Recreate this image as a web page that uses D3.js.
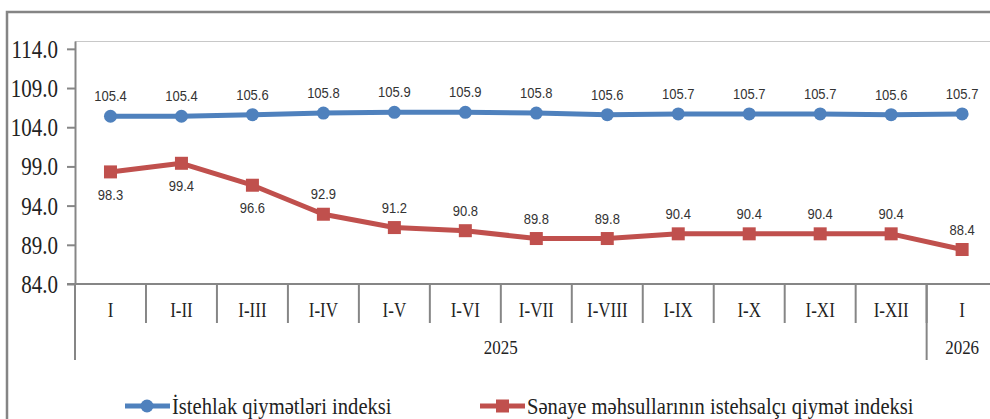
<!DOCTYPE html>
<html>
<head>
<meta charset="utf-8">
<script src="https://cdn.jsdelivr.net/npm/d3@7"></script>
<style>
  body { margin: 0; background: #fff; }
  svg { display: block; }
  .tick-y { font-family: "Liberation Serif", "Times New Roman", serif; font-size: 21px; fill: #222; }
  .cat { font-family: "Liberation Serif", "Times New Roman", serif; font-size: 17px; fill: #222; }
  .lbl { font-family: "Liberation Sans", Arial, sans-serif; font-size: 13px; fill: #333; }
  .legend { font-family: "Liberation Serif", "Times New Roman", serif; font-size: 20.6px; fill: #222; }
</style>
</head>
<body>
<svg id="chart"></svg>
<script>
// data
const categories = ['I', 'I-II', 'I-III', 'I-IV', 'I-V', 'I-VI', 'I-VII', 'I-VIII', 'I-IX', 'I-X', 'I-XI', 'I-XII', 'I']
const years = ['2025', '2026']
const yearSpans = [12, 1]
const cpi = [105.4, 105.4, 105.6, 105.8, 105.9, 105.9, 105.8, 105.6, 105.7, 105.7, 105.7, 105.6, 105.7]
const ppi = [98.3, 99.4, 96.6, 92.9, 91.2, 90.8, 89.8, 89.8, 90.4, 90.4, 90.4, 90.4, 88.4]
const yTicks = [84, 89, 94, 99, 104, 109, 114]
const seriesNames = ['İstehlak qiymətləri indeksi', 'Sənaye məhsullarının istehsalçı qiymət indeksi']

const width = 990, height = 419
const plot = {left: 75, top: 41, bottom: 284, band: 70.97}

// text in the original is drawn a bit taller than wide, so stretch it vertically
const stretch = (sel, px, py, sy) => sel
    .attr('x', 0).attr('y', 0)
    .attr('transform', (d, i) => `translate(${px(d, i)},${py(d, i)}) scale(1,${sy})`)

const svg = d3.select('#chart').attr('width', width).attr('height', height)

// outer chart border (runs off the right/bottom of the picture)
svg.append('rect')
    .attr('x', 7).attr('y', 12)
    .attr('width', 1000).attr('height', 420)
    .attr('fill', 'none')
    .attr('stroke', '#858585')
    .attr('stroke-width', 2.5)

const x = d3.scaleBand()
    .domain(d3.range(categories.length))
    .range([plot.left, plot.left + plot.band * categories.length])

const y = d3.scaleLinear()
    .domain([84, 115])
    .range([plot.bottom, plot.top])

// plot area top border
svg.append('line')
    .attr('x1', plot.left).attr('x2', 1000)
    .attr('y1', plot.top + 0.5).attr('y2', plot.top + 0.5)
    .attr('stroke', '#c8c8c8')

// y axis
const yAxis = svg.append('g')
    .attr('transform', `translate(${plot.left},0)`)
    .call(d3.axisLeft(y).tickValues(yTicks).tickFormat(d3.format('.1f')).tickSize(8).tickSizeOuter(0))
yAxis.select('.domain').attr('stroke', '#868686').attr('stroke-width', 2)
yAxis.selectAll('.tick line').attr('stroke', '#868686').attr('stroke-width', 2)
yAxis.selectAll('.tick text')
    .attr('class', 'tick-y')
    .attr('dy', '0.34em')
    .attr('font-family', null).attr('font-size', null)
    .call(stretch, () => -17, () => 0, 1.2)

// x axis baseline
svg.append('line')
    .attr('x1', plot.left - 8).attr('x2', 1000)
    .attr('y1', plot.bottom).attr('y2', plot.bottom)
    .attr('stroke', '#868686').attr('stroke-width', 2)

// category separators
svg.append('g')
    .selectAll('line')
    .data(d3.range(1, categories.length))
    .join('line')
    .attr('x1', i => x(i)).attr('x2', i => x(i))
    .attr('y1', plot.bottom).attr('y2', 323)
    .attr('stroke', '#868686').attr('stroke-width', 2)

// category labels
svg.append('g')
    .selectAll('text')
    .data(categories)
    .join('text')
    .attr('class', 'cat')
    .attr('text-anchor', 'middle')
    .text(d => d)
    .call(stretch, (d, i) => x(i) + x.bandwidth() / 2, () => 317, 1.2)

// year groups
const yearStarts = yearSpans.map((s, i) => d3.sum(yearSpans.slice(0, i)))
svg.append('g')
    .selectAll('line')
    .data(yearStarts)
    .join('line')
    .attr('x1', s => x(s)).attr('x2', s => x(s))
    .attr('y1', plot.bottom).attr('y2', 360)
    .attr('stroke', '#868686').attr('stroke-width', 2)

svg.append('g')
    .selectAll('text')
    .data(years)
    .join('text')
    .attr('class', 'cat')
    .attr('text-anchor', 'middle')
    .text(d => d)
    .call(stretch, (d, i) => {
        const s = yearStarts[i], e = s + yearSpans[i]
        return (x(s) + x(e - 1) + x.bandwidth()) / 2
    }, () => 354, 1.15)

const cx = i => x(i) + x.bandwidth() / 2
const line = d3.line().x((d, i) => cx(i)).y(d => y(d))

const blue = '#4f81bd', red = '#c0504d'

// series lines
svg.append('path').datum(cpi)
    .attr('d', line)
    .attr('fill', 'none').attr('stroke', blue).attr('stroke-width', 5)
    .attr('stroke-linejoin', 'round')

svg.append('path').datum(ppi)
    .attr('d', line)
    .attr('fill', 'none').attr('stroke', red).attr('stroke-width', 5)
    .attr('stroke-linejoin', 'round')

// markers
svg.append('g')
    .selectAll('circle')
    .data(cpi)
    .join('circle')
    .attr('cx', (d, i) => cx(i)).attr('cy', d => y(d))
    .attr('r', 6.5)
    .attr('fill', blue)

svg.append('g')
    .selectAll('rect')
    .data(ppi)
    .join('rect')
    .attr('x', (d, i) => cx(i) - 6.5).attr('y', d => y(d) - 6.5)
    .attr('width', 13).attr('height', 13)
    .attr('fill', red)

// data labels
svg.append('g')
    .selectAll('text')
    .data(cpi)
    .join('text')
    .attr('class', 'lbl')
    .attr('text-anchor', 'middle')
    .text(d => d.toFixed(1))
    .call(stretch, (d, i) => cx(i), d => y(d) - 15, 1.1)

svg.append('g')
    .selectAll('text')
    .data(ppi)
    .join('text')
    .attr('class', 'lbl')
    .attr('text-anchor', 'middle')
    .text(d => d.toFixed(1))
    .call(stretch, (d, i) => cx(i), (d, i) => i < 3 ? y(d) + 28 : y(d) - 15, 1.1)

// legend
const legend = svg.append('g')
const legendItems = [
    {name: seriesNames[0], color: blue, x: 125, shape: 'circle'},
    {name: seriesNames[1], color: red, x: 480, shape: 'square'}
]
legendItems.forEach(item => {
    const g = legend.append('g').attr('transform', `translate(${item.x},406)`)
    g.append('line')
        .attr('x1', 0).attr('x2', 45)
        .attr('stroke', item.color).attr('stroke-width', 5)
    if (item.shape === 'circle')
        g.append('circle').attr('cx', 22).attr('r', 6.5).attr('fill', item.color)
    else
        g.append('rect').attr('x', 16).attr('y', -6.5).attr('width', 13).attr('height', 13).attr('fill', item.color)
    g.append('text')
        .attr('class', 'legend')
        .text(item.name)
        .call(stretch, () => 47, () => 8, 1.15)
})
</script>
</body>
</html>
